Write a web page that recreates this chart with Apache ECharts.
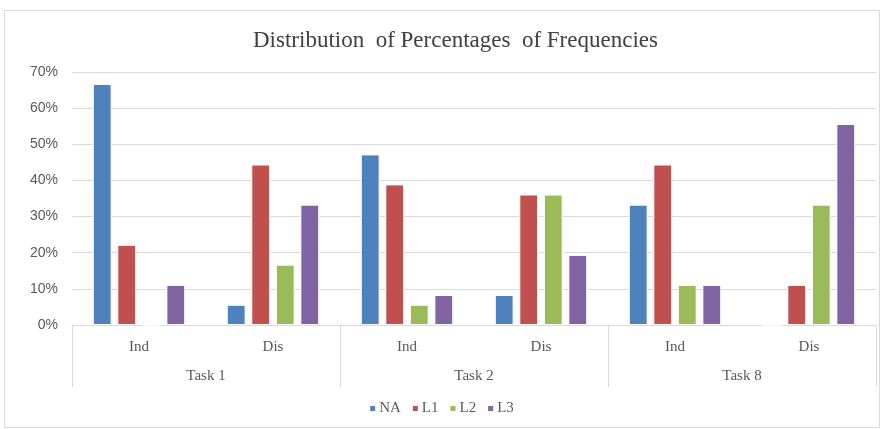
<!DOCTYPE html>
<html>
<head>
<meta charset="utf-8">
<script src="https://cdn.jsdelivr.net/npm/echarts@6/dist/echarts.min.js"></script>
<style>
  html, body { margin: 0; padding: 0; background: #fff; }
  #chart { width: 882px; height: 429px; }
</style>
</head>
<body>
<div id="chart"></div>
<script>
// 数据
const subCats = ['Ind', 'Dis', 'Ind', 'Dis', 'Ind', 'Dis'];
const tasks = ['Task 1', 'Task 2', 'Task 8'];
const seriesNames = ['NA', 'L1', 'L2', 'L3'];
const naVals = [66.7, 5.6, 47.2, 8.3, 33.3, 0];
const l1Vals = [22.2, 44.4, 38.9, 36.1, 44.4, 11.1];
const l2Vals = [0, 16.7, 5.6, 36.1, 11.1, 33.3];
const l3Vals = [11.1, 33.3, 8.3, 19.4, 11.1, 55.6];
const yTicks = [0, 10, 20, 30, 40, 50, 60, 70];

const colors = ['#4f81bd', '#c0504d', '#9bbb59', '#8064a2'];
const serif = '"Liberation Serif", "DejaVu Serif", serif';
const sans = '"Liberation Sans", Arial, sans-serif';

function createChart(element, option) {
    let myChart = echarts.init(element); // 创建echart对象
    myChart.setOption(option); // 设置配置
    return myChart;
}

const allVals = [naVals, l1Vals, l2Vals, l3Vals];

createChart(document.getElementById('chart'), {
    animation: false,
    color: colors,
    title: {
        text: 'Distribution  of Percentages  of Frequencies',
        left: 248,
        top: 24,
        textStyle: { fontFamily: serif, fontSize: 23, fontWeight: 'normal', color: '#404040' }
    },
    graphic: [{
        type: 'rect',
        shape: { x: 4.5, y: 10.5, width: 875, height: 417 },
        style: { fill: 'none', stroke: '#d9d9d9', lineWidth: 1 },
        silent: true
    }],
    legend: {
        bottom: 8,
        left: 'center',
        icon: 'rect',
        itemWidth: 7,
        itemHeight: 7,
        itemGap: 10,
        data: seriesNames,
        textStyle: { fontFamily: serif, fontSize: 15, color: '#595959', padding: [0, 0, 0, -2] }
    },
    grid: { left: 72, right: 6, top: 72, bottom: 104 },
    xAxis: [{
        type: 'category',
        data: subCats,
        axisLine: { lineStyle: { color: '#d9d9d9' } },
        axisTick: { show: false },
        axisLabel: { margin: 15, fontFamily: serif, fontSize: 15, color: '#595959' }
    }, {
        type: 'category',
        data: tasks,
        position: 'bottom',
        axisLine: { show: false },
        axisTick: { show: true, length: 62, lineStyle: { color: '#d9d9d9' } },
        axisLabel: { margin: 44, fontFamily: serif, fontSize: 15, color: '#595959' },
        splitLine: { show: false }
    }],
    yAxis: {
        type: 'value',
        min: yTicks[0],
        max: yTicks[yTicks.length - 1],
        interval: 10,
        axisLine: { show: false },
        axisTick: { show: false },
        axisLabel: { formatter: '{value}%', fontFamily: sans, fontSize: 14, color: '#595959', margin: 14 },
        splitLine: { lineStyle: { color: '#d9d9d9' } }
    },
    series: seriesNames.map((name, i) => ({
        name: name,
        type: 'bar',
        xAxisIndex: 0,
        data: allVals[i],
        barGap: '30%',
        barCategoryGap: '31%',
        itemStyle: { borderColor: '#fff', borderWidth: 1 }
    }))
});
</script>
</body>
</html>
